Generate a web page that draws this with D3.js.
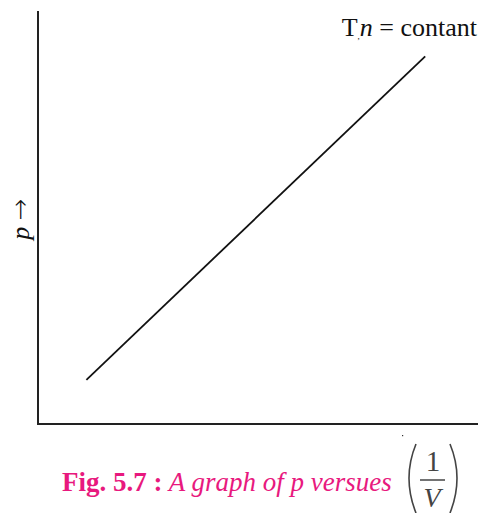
<!DOCTYPE html>
<html>
<head>
<meta charset="utf-8">
<script src="https://cdn.jsdelivr.net/npm/d3@7"></script>
<style>
  body { margin: 0; background: #fff; }
</style>
</head>
<body>
<div id="visSpace"></div>
<script>
//Chart data (1/V on x, p on y, arbitrary units)
var invV = [1.1, 8.8];
var pVals = [1.07, 8.9];
var axisDomain = [0, 10];

var width = 478, height = 513;
var serif = "'Liberation Serif', 'Times New Roman', 'DejaVu Serif', serif";
var svg = d3.select("#visSpace").append("svg")
            .attr("width", width)
            .attr("height", height)
            .attr("font-family", serif)
            .style("font-family", serif);

//Scales
var x = d3.scaleLinear().domain(axisDomain).range([38, 478]);
var y = d3.scaleLinear().domain(axisDomain).range([424, 11]);

//Axes (no ticks)
svg.append("line")
   .attr("x1", x(0)).attr("y1", y(0))
   .attr("x2", x(0)).attr("y2", y(10))
   .attr("stroke", "#222").attr("stroke-width", 2);
svg.append("line")
   .attr("x1", x(0) - 1).attr("y1", y(0))
   .attr("x2", x(10)).attr("y2", y(0))
   .attr("stroke", "#222").attr("stroke-width", 2);

//The straight line p vs 1/V
var pts = invV.map(function(d, i){ return [d, pVals[i]]; });
svg.append("path")
   .datum(pts)
   .attr("d", d3.line().x(function(d){ return x(d[0]); })
                       .y(function(d){ return y(d[1]); }))
   .attr("fill", "none")
   .attr("stroke", "#111")
   .attr("stroke-width", 1.8);

//Label at top right
var lab = svg.append("text")
             .attr("x", 477).attr("y", 36)
             .attr("text-anchor", "end")
             .attr("font-size", "26px")
             .attr("fill", "#111");
lab.append("tspan").text("T");
lab.append("tspan").attr("font-size", "9px").attr("dy", 3).text(",");
lab.append("tspan").attr("font-style", "italic").attr("dy", -3).text("n");
lab.append("tspan").text(" = contant");

//y axis label
var yl = svg.append("text")
   .attr("transform", "translate(29,219) rotate(-90)")
   .attr("text-anchor", "middle")
   .attr("font-size", "26px")
   .attr("fill", "#111");
yl.append("tspan").attr("font-style", "italic").text("p ");
yl.append("tspan").attr("font-family", "'DejaVu Sans', sans-serif")
  .attr("font-weight", "200").text("\u2192");

//small stray dot
svg.append("rect").attr("x", 402).attr("y", 435)
   .attr("width", 1.2).attr("height", 1.2).attr("fill", "#333");

//Caption
var pink = "#e8197e";
var cap = svg.append("text")
             .attr("x", 62).attr("y", 491)
             .attr("font-size", "27px")
             .attr("fill", pink);
cap.append("tspan").attr("font-weight", "bold").text("Fig. 5.7 :");
cap.append("tspan").attr("font-style", "italic").text(" A graph of p versues");

//Fraction (1/V) in brackets
var ink = "#444";
var fr = svg.append("g");
fr.append("path")
  .attr("d", "M416,444 Q402,478 416,513")
  .attr("fill", "none").attr("stroke", ink).attr("stroke-width", 1.6);
fr.append("path")
  .attr("d", "M450,444 Q464,478 450,513")
  .attr("fill", "none").attr("stroke", ink).attr("stroke-width", 1.6);
fr.append("text").attr("x", 433).attr("y", 471)
  .attr("font-size", "29px").attr("text-anchor", "middle")
  .attr("fill", ink).text("1");
fr.append("line").attr("x1", 420).attr("x2", 445)
  .attr("y1", 480).attr("y2", 480)
  .attr("stroke", ink).attr("stroke-width", 1.5);
fr.append("text").attr("x", 432).attr("y", 507)
  .attr("font-size", "28px").attr("font-style", "italic")
  .attr("text-anchor", "middle").attr("fill", ink).text("V");
</script>
</body>
</html>
